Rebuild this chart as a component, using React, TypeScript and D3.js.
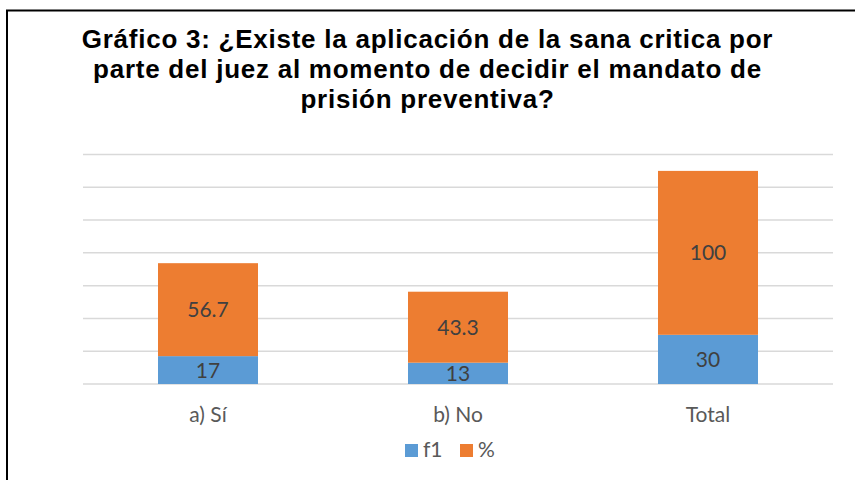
import React from "react";
import * as d3 from "d3";

const categories = ["a) Sí", "b) No", "Total"];
const f1Values = [17, 13, 30];
const pctValues = [56.7, 43.3, 100];
const seriesNames = ["f1", "%"];
const seriesColors = ["#5B9BD5", "#ED7D31"];
const yTicks = [0, 20, 40, 60, 80, 100, 120, 140];
const titleLines = [
  "Gráfico 3: ¿Existe la aplicación de la sana critica por",
  "parte del juez al momento de decidir el mandato de",
  "prisión preventiva?",
];

const W = 855;
const H = 480;
const plot = { left: 83, right: 833, top: 154.5, bottom: 384 };

export default function App() {
  const x = d3
    .scaleBand<string>()
    .domain(categories)
    .range([plot.left, plot.right])
    .paddingInner(0.6)
    .paddingOuter(0.3);
  const y = d3.scaleLinear().domain([0, 140]).range([plot.bottom, plot.top]);

  const rows = categories.map((c, i) => ({ cat: c, f1: f1Values[i], pct: pctValues[i] }));
  const stack = d3.stack<any>().keys(["f1", "pct"]);
  const layers = stack(rows);

  const labelFont = "Lato, 'Open Sans', sans-serif";

  return (
    <svg
      width={W}
      height={H}
      style={{ position: "absolute", left: 0, top: 0, background: "#fff" }}
    >
      <rect x={0} y={0} width={W} height={H} fill="#fff" />
      {/* frame */}
      <path d={`M7,${H} L7,10.5 L${W},10.5`} fill="none" stroke="#000" strokeWidth={2} />
      {/* title */}
      {titleLines.map((t, i) => (
        <text
          key={i}
          x={427.5}
          y={48 + i * 30}
          textAnchor="middle"
          fontFamily="'Liberation Sans', Arial, sans-serif"
          fontWeight="bold"
          fontSize={26}
          letterSpacing={0.75}
          fill="#000"
        >
          {t}
        </text>
      ))}
      {/* gridlines */}
      {yTicks.map((t) => (
        <line
          key={t}
          x1={plot.left}
          x2={plot.right}
          y1={y(t)}
          y2={y(t)}
          stroke="#D9D9D9"
          strokeWidth={1.5}
        />
      ))}
      {/* bars */}
      {layers.map((layer, li) => (
        <g key={li}>
          {layer.map((d, i) => {
            const x0 = x(categories[i])!;
            const yTop = y(d[1]);
            const yBot = y(d[0]);
            const val = li === 0 ? f1Values[i] : pctValues[i];
            return (
              <g key={i}>
                <rect
                  x={x0}
                  y={yTop}
                  width={x.bandwidth()}
                  height={yBot - yTop}
                  fill={seriesColors[li]}
                />
                <text
                  x={x0 + x.bandwidth() / 2}
                  y={(yTop + yBot) / 2}
                  dy="0.36em"
                  textAnchor="middle"
                  fontFamily={labelFont}
                  fontSize={21}
                  fill="#404040"
                >
                  {String(val)}
                </text>
              </g>
            );
          })}
        </g>
      ))}
      {/* category labels */}
      {categories.map((c) => (
        <text
          key={c}
          x={x(c)! + x.bandwidth() / 2}
          y={422}
          textAnchor="middle"
          fontFamily={labelFont}
          fontSize={21}
          fill="#595959"
        >
          {c}
        </text>
      ))}
      {/* legend */}
      {seriesNames.map((s, i) => {
        const lx = i === 0 ? 405 : 460;
        return (
          <g key={s}>
            <rect x={lx} y={444} width={13} height={13} fill={seriesColors[i]} />
            <text
              x={lx + 18}
              y={457}
              fontFamily={labelFont}
              fontSize={21}
              fill="#595959"
            >
              {s}
            </text>
          </g>
        );
      })}
    </svg>
  );
}
